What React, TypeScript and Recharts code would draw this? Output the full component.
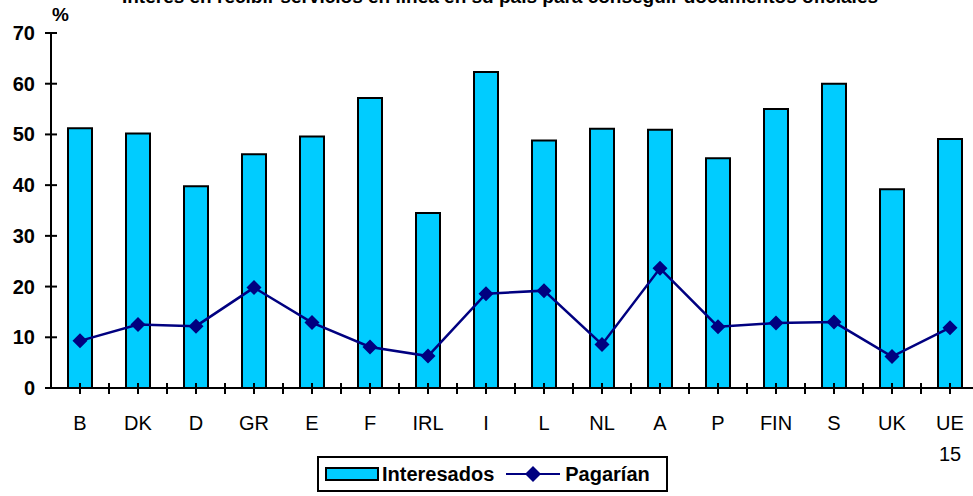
import React from 'react';
import { ComposedChart, Bar, Line, XAxis, YAxis, Legend } from 'recharts';

const countries = ['B', 'DK', 'D', 'GR', 'E', 'F', 'IRL', 'I', 'L', 'NL', 'A', 'P', 'FIN', 'S', 'UK', 'UE 15'];
const interesados = [51.2, 50.2, 39.8, 46.1, 49.6, 57.2, 34.5, 62.3, 48.8, 51.1, 50.9, 45.3, 55.0, 60.0, 39.2, 49.1];
const pagarian = [9.3, 12.5, 12.2, 19.8, 12.9, 8.1, 6.3, 18.6, 19.2, 8.6, 23.6, 12.1, 12.8, 13.0, 6.2, 11.9];
const yTicks = [0, 10, 20, 30, 40, 50, 60, 70];

const data = countries.map((c, i) => ({ name: c, interesados: interesados[i], pagarian: pagarian[i] }));

const CHART_W = 990;
const CHART_H = 496;
const LEFT = 51;
const RIGHT = 11;
const HALF = (CHART_W - LEFT - RIGHT) / countries.length / 2;
const FONT = '"Liberation Sans", Arial, Helvetica, sans-serif';

const YTick = (props: any) => {
  const { x, y, payload } = props;
  return (
    <g>
      <line x1={x - 6} x2={x + 6} y1={y} y2={y} stroke="#000" strokeWidth={2} />
      <text x={x - 16} y={y + 7} textAnchor="end" fontFamily={FONT} fontWeight="bold" fontSize={20} fill="#000">
        {payload.value}
      </text>
    </g>
  );
};

const XTick = (props: any) => {
  const { x, y, payload, index } = props;
  const lines = String(payload.value).split(' ');
  return (
    <g>
      <line x1={x} x2={x} y1={y - 5} y2={y + 6} stroke="#000" strokeWidth={2} />
      <line x1={x + HALF} x2={x + HALF} y1={y - 5} y2={y + 6} stroke="#000" strokeWidth={2} />
      {index === 0 && <line x1={x - HALF - 6} x2={x - HALF + 6} y1={y} y2={y} stroke="#000" strokeWidth={2} />}
      <text x={x} y={y + 42} textAnchor="middle" fontFamily={FONT} fontSize={20} fill="#000">
        {lines.map((l, i) => (
          <tspan key={i} x={x} dy={i === 0 ? 0 : 31}>
            {l}
          </tspan>
        ))}
      </text>
    </g>
  );
};

const Diamond = (props: any) => {
  const { cx, cy } = props;
  if (cx == null || cy == null) return null;
  const r = 7.5;
  return <polygon points={`${cx},${cy - r} ${cx + r},${cy} ${cx},${cy + r} ${cx - r},${cy}`} fill="#000080" />;
};

const LegendBox = () => (
  <div
    style={{
      border: '2px solid #000',
      width: 347,
      height: 32,
      display: 'flex',
      alignItems: 'center',
      fontFamily: FONT,
      fontWeight: 'bold',
      fontSize: 20,
      color: '#000',
      boxSizing: 'content-box',
    }}
  >
    <span style={{ display: 'inline-block', width: 50, height: 10, background: '#00CCFF', border: '2px solid #000', marginLeft: 6, marginRight: 3 }} />
    <span>Interesados</span>
    <svg width={54} height={20} style={{ marginLeft: 12, marginRight: 5 }}>
      <line x1={0} x2={54} y1={10} y2={10} stroke="#000080" strokeWidth={2} />
      <polygon points="27,2 35,10 27,18 19,10" fill="#000080" />
    </svg>
    <span>Pagarían</span>
  </div>
);

export default function App() {
  return (
    <div style={{ position: 'fixed', left: 0, top: 0, width: 973, height: 496, overflow: 'hidden', background: '#fff' }}>
      <div style={{ position: 'absolute', left: 0, top: -14, width: 1000, textAlign: 'center', fontFamily: FONT, fontWeight: 'bold', fontSize: 19, whiteSpace: 'nowrap' }}>
        Interés en recibir servicios en línea en su país para conseguir documentos oficiales
      </div>
      <div style={{ position: 'absolute', left: 52, top: 4, fontFamily: FONT, fontWeight: 'bold', fontSize: 19 }}>%</div>
      <ComposedChart
        width={CHART_W}
        height={CHART_H}
        data={data}
        margin={{ top: 33, right: RIGHT, bottom: 32, left: 0 }}
        barSize={24}
      >
        <XAxis
          dataKey="name"
          tick={<XTick />}
          tickLine={false}
          axisLine={{ stroke: '#000', strokeWidth: 2 }}
          interval={0}
          height={40}
          tickSize={0}
          tickMargin={0}
        />
        <YAxis
          domain={[0, 70]}
          ticks={yTicks}
          tick={<YTick />}
          tickLine={false}
          axisLine={{ stroke: '#000', strokeWidth: 2 }}
          width={LEFT}
          tickSize={0}
          tickMargin={0}
          interval={0}
        />
        <Legend
          content={<LegendBox />}
          wrapperStyle={{ position: 'absolute', left: 317, top: 456, width: 351, bottom: 'auto' }}
        />
        <Bar dataKey="interesados" name="Interesados" fill="#00CCFF" stroke="#000" strokeWidth={2} isAnimationActive={false} />
        <Line
          dataKey="pagarian"
          name="Pagarían"
          stroke="#000080"
          strokeWidth={2.5}
          dot={<Diamond />}
          activeDot={false}
          isAnimationActive={false}
        />
      </ComposedChart>
    </div>
  );
}
